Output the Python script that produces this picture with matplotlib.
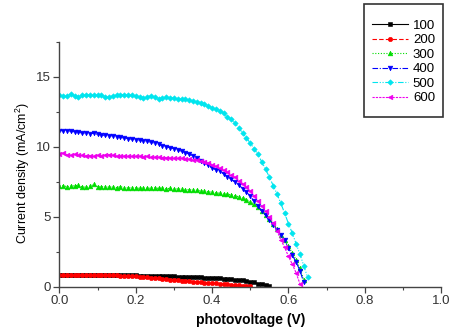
import numpy as np
import matplotlib
matplotlib.use("Agg")
import matplotlib.pyplot as plt
from matplotlib.ticker import MultipleLocator
from matplotlib.patches import Rectangle

plt.rcParams["font.family"] = ["Liberation Sans", "DejaVu Sans"]
plt.rcParams["mathtext.fontset"] = "custom"
plt.rcParams["mathtext.rm"] = "Liberation Sans"

step = 0.01

j100 = [0.85,0.85,0.85,0.85,0.84,0.84,0.84,0.84,0.83,0.83,
        0.83,0.83,0.82,0.82,0.82,0.82,0.81,0.81,0.81,0.80,
        0.80,0.79,0.79,0.78,0.78,0.77,0.76,0.76,0.75,0.74,
        0.73,0.72,0.71,0.70,0.69,0.68,0.67,0.66,0.65,0.64,
        0.62,0.61,0.59,0.57,0.55,0.53,0.51,0.48,0.45,0.41,
        0.36,0.30,0.22,0.16,0.10,0.03]
j200 = [0.86,0.86,0.86,0.85,0.85,0.85,0.84,0.84,0.84,0.83,
        0.83,0.82,0.82,0.81,0.81,0.80,0.79,0.78,0.77,0.76,
        0.74,0.72,0.70,0.67,0.65,0.62,0.59,0.56,0.53,0.50,
        0.48,0.45,0.43,0.40,0.38,0.36,0.33,0.31,0.29,0.27,
        0.25,0.23,0.21,0.19,0.16,0.14,0.12,0.09,0.07,0.04,
        0.02]
j300 = [7.18,7.20,7.15,7.18,7.20,7.25,7.12,7.10,7.18,7.30,
        7.15,7.12,7.15,7.10,7.12,7.08,7.15,7.06,7.05,7.06,
        7.05,7.02,7.05,7.02,7.04,7.06,7.02,7.04,7.00,7.02,
        6.98,6.98,6.95,6.94,6.92,6.90,6.88,6.86,6.82,6.78,
        6.74,6.70,6.67,6.63,6.60,6.56,6.50,6.42,6.34,6.22,
        6.08,5.90,5.66,5.40,5.14,4.82,4.48,4.12,3.72,3.32,
        2.88,2.42,1.92,1.30,0.50]
j400 = [11.15,11.13,11.12,11.10,11.06,11.02,10.98,10.95,10.92,10.96,
        10.88,10.84,10.80,10.76,10.78,10.70,10.66,10.62,10.56,10.54,
        10.50,10.46,10.42,10.38,10.32,10.24,10.16,10.08,10.00,9.92,
        9.84,9.76,9.68,9.58,9.46,9.32,9.16,9.00,8.84,8.66,
        8.48,8.36,8.24,8.06,7.86,7.66,7.46,7.26,7.00,6.76,
        6.45,6.10,5.74,5.42,5.10,4.78,4.42,4.05,3.69,3.30,
        2.75,2.25,1.75,1.15,0.30]
j500 = [13.70,13.62,13.65,13.78,13.62,13.58,13.66,13.66,13.70,13.66,
        13.66,13.66,13.58,13.52,13.64,13.69,13.69,13.69,13.69,13.66,
        13.62,13.55,13.45,13.58,13.62,13.56,13.40,13.50,13.55,13.50,
        13.45,13.40,13.38,13.38,13.34,13.28,13.22,13.15,13.03,12.92,
        12.78,12.68,12.56,12.40,12.15,11.97,11.67,11.33,10.98,10.62,
        10.26,9.85,9.45,8.92,8.38,7.83,7.22,6.62,5.95,5.24,
        4.50,3.82,3.06,2.32,1.50,0.67]
j600 = [9.50,9.55,9.42,9.38,9.45,9.40,9.38,9.36,9.36,9.30,
        9.38,9.34,9.42,9.44,9.38,9.34,9.32,9.36,9.32,9.30,
        9.30,9.32,9.28,9.30,9.26,9.26,9.24,9.22,9.22,9.20,
        9.18,9.16,9.16,9.12,9.10,9.04,9.06,9.00,8.92,8.84,
        8.72,8.60,8.46,8.32,8.16,7.98,7.80,7.58,7.36,7.10,
        6.82,6.50,6.14,5.78,5.40,5.00,4.56,4.00,3.36,2.80,
        2.16,1.60,0.98,0.20]

labels = ["100", "200", "300", "400", "500", "600"]
series = [j100, j200, j300, j400, j500, j600]
colors = ["#000000", "#ff0000", "#00dd00", "#0000ff", "#00e5ee", "#ee00ee"]
markers = ["s", "o", "^", "v", "D", "<"]
msizes = [3.0, 3.2, 3.4, 3.4, 2.8, 3.4]
styles = ["-", (0, (4, 2)), (0, (1, 1.5)), (0, (5, 1.5, 1, 1.5)),
          (0, (5, 1.5, 1, 1.5, 1, 1.5)), (0, (2, 1))]

W, H = 452, 329
fig = plt.figure(figsize=(W / 100, H / 100), dpi=100)
ax = fig.add_axes([0.1312, 0.1286, 0.9763 - 0.1312, 0.8733 - 0.1286])

for lab, ys, c, m, ms, ls in zip(labels, series, colors, markers, msizes, styles):
    xs = np.arange(len(ys)) * step
    ax.plot(xs, ys, color=c, marker=m, linestyle=ls, linewidth=0.8,
            markersize=ms, markeredgewidth=0.4, label=lab)

ax.set_xlim(0, 1.0)
ax.set_ylim(0, 17.5)
ax.xaxis.set_major_locator(MultipleLocator(0.2))
ax.xaxis.set_minor_locator(MultipleLocator(0.1))
ax.yaxis.set_major_locator(MultipleLocator(5))
ax.yaxis.set_minor_locator(MultipleLocator(2.5))
ax.spines["top"].set_visible(False)
ax.spines["right"].set_visible(False)
for s in ("left", "bottom"):
    ax.spines[s].set_color("#444444")
    ax.spines[s].set_linewidth(1.0)
ax.tick_params(which="major", direction="out", length=4, width=0.9,
               color="#444444", labelsize=9.5, labelcolor="#333333", pad=2)
ax.tick_params(which="minor", direction="out", length=2.5, width=0.8,
               color="#444444")
ax.xaxis.set_major_formatter(plt.FuncFormatter(lambda v, p: f"{v:.1f}"))
ax.yaxis.set_major_formatter(plt.FuncFormatter(lambda v, p: f"{v:.0f}"))

ax.set_xlabel("photovoltage (V)", fontsize=10, fontweight="bold", labelpad=4)
ax.set_ylabel("Current density (mA/cm$^2$)", fontsize=9, labelpad=4)
ax.yaxis.set_label_coords(-0.072, 0.464)

# legend box frame
fig.patches.append(Rectangle((364 / W, 1 - 117 / H), 79 / W, 113 / H,
                             transform=fig.transFigure, fill=False,
                             edgecolor="#333333", linewidth=1.2))
leg = fig.legend(loc="upper left", bbox_to_anchor=(372 / W, 1 - 19.5 / H),
                 fontsize=9.5, frameon=False, handlelength=2.7,
                 handletextpad=0.4, labelspacing=0.17, borderpad=0,
                 borderaxespad=0)

fig.savefig("out.png", dpi=100)
